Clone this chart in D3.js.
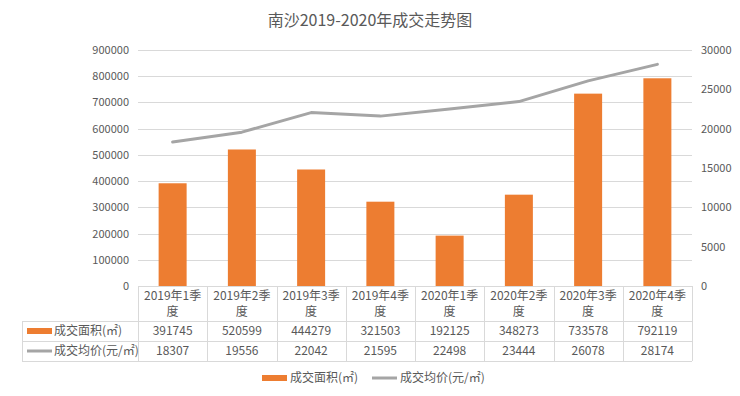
<!DOCTYPE html>
<html>
<head>
<meta charset="utf-8">
<script src="https://cdn.jsdelivr.net/npm/d3@7"></script>
<style>
  body { margin: 0; background: #fff; }
  text { font-family: "Noto Sans CJK SC", "Noto Sans", sans-serif; fill: #595959; }
</style>
</head>
<body>
<svg id="chart" width="740" height="396"></svg>
<script>
// 数据
const categories = ['2019年1季度', '2019年2季度', '2019年3季度', '2019年4季度',
    '2020年1季度', '2020年2季度', '2020年3季度', '2020年4季度'];
const areaValues = [391745, 520599, 444279, 321503, 192125, 348273, 733578, 792119];
const priceValues = [18307, 19556, 22042, 21595, 22498, 23444, 26078, 28174];
const leftTicks = [0, 100000, 200000, 300000, 400000, 500000, 600000, 700000, 800000, 900000];
const rightTicks = [0, 5000, 10000, 15000, 20000, 25000, 30000];
const seriesNames = ['成交面积(㎡)', '成交均价(元/㎡)'];
const title = '南沙2019-2020年成交走势图';

const orange = '#ED7D31';
const grey = '#A5A5A5';
const gridColor = '#D9D9D9';

const svg = d3.select('#chart');
const plot = { left: 138, right: 692, top: 50, bottom: 286 };

const x = d3.scaleBand().domain(categories).range([plot.left, plot.right]);
const yL = d3.scaleLinear().domain([0, 900000]).range([plot.bottom, plot.top]);
const yR = d3.scaleLinear().domain([0, 30000]).range([plot.bottom, plot.top]);

// 标题
svg.append('text')
    .attr('x', 370).attr('y', 26)
    .attr('text-anchor', 'middle')
    .style('font-size', '16px')
    .text(title);

// 网格线
svg.append('g').selectAll('line')
    .data(leftTicks)
    .enter().append('line')
    .attr('x1', plot.left).attr('x2', plot.right)
    .attr('y1', d => Math.round(yL(d)) + 0.5).attr('y2', d => Math.round(yL(d)) + 0.5)
    .attr('stroke', gridColor);

// 左轴
const leftAxis = svg.append('g')
    .attr('transform', `translate(${plot.left - 9},0)`)
    .call(d3.axisLeft(yL).tickValues(leftTicks).tickFormat(d3.format('d')).tickSize(0).tickPadding(0));
leftAxis.select('.domain').remove();
leftAxis.selectAll('text').style('font-size', '11px').attr('fill', '#595959');

// 右轴
const rightAxis = svg.append('g')
    .attr('transform', `translate(${plot.right + 9},0)`)
    .call(d3.axisRight(yR).tickValues(rightTicks).tickFormat(d3.format('d')).tickSize(0).tickPadding(0));
rightAxis.select('.domain').remove();
rightAxis.selectAll('text').style('font-size', '11px').attr('fill', '#595959');

// 柱子
const barW = 28;
svg.append('g').selectAll('rect')
    .data(areaValues)
    .enter().append('rect')
    .attr('x', (d, i) => x(categories[i]) + x.bandwidth() / 2 - barW / 2)
    .attr('width', barW)
    .attr('y', d => yL(d))
    .attr('height', d => yL(0) - yL(d))
    .attr('fill', orange);

// 折线
const line = d3.line()
    .x((d, i) => x(categories[i]) + x.bandwidth() / 2)
    .y(d => yR(d));
svg.append('path')
    .datum(priceValues)
    .attr('d', line)
    .attr('fill', 'none')
    .attr('stroke', grey)
    .attr('stroke-width', 3)
    .attr('stroke-linecap', 'round')
    .attr('stroke-linejoin', 'round');

// 数据表
const tableLeft = 22;
const rowY = [plot.bottom, 321, 341, 361];
const tbl = svg.append('g');
const border = '#D9D9D9';

// 横线
tbl.append('line').attr('x1', plot.left).attr('x2', plot.right)
    .attr('y1', rowY[0] + 0.5).attr('y2', rowY[0] + 0.5).attr('stroke', border);
rowY.slice(1).forEach(y => {
    tbl.append('line').attr('x1', tableLeft).attr('x2', plot.right)
        .attr('y1', y + 0.5).attr('y2', y + 0.5).attr('stroke', border);
});
// 竖线
const vx = categories.map(c => x(c)).concat([plot.right]);
vx.forEach(v => {
    tbl.append('line').attr('x1', Math.round(v) + 0.5).attr('x2', Math.round(v) + 0.5)
        .attr('y1', rowY[0]).attr('y2', rowY[3]).attr('stroke', border);
});
tbl.append('line').attr('x1', tableLeft + 0.5).attr('x2', tableLeft + 0.5)
    .attr('y1', rowY[1]).attr('y2', rowY[3]).attr('stroke', border);

// 类别标签（两行）
categories.forEach(c => {
    const cx = x(c) + x.bandwidth() / 2;
    const t = tbl.append('text')
        .attr('text-anchor', 'middle')
        .style('font-size', '12px');
    t.append('tspan').attr('x', cx).attr('y', 300).text(c.slice(0, c.length - 1));
    t.append('tspan').attr('x', cx).attr('y', 316).text(c.slice(-1));
});

// 数值行
[areaValues, priceValues].forEach((vals, r) => {
    const cy = (rowY[r + 1] + rowY[r + 2]) / 2 + 4;
    vals.forEach((v, i) => {
        tbl.append('text')
            .attr('x', x(categories[i]) + x.bandwidth() / 2)
            .attr('y', cy)
            .attr('text-anchor', 'middle')
            .style('font-size', '12px')
            .text(v);
    });
    // 图例键
    const keyY = (rowY[r + 1] + rowY[r + 2]) / 2;
    if (r === 0) {
        tbl.append('rect').attr('x', 27).attr('y', keyY - 3).attr('width', 25).attr('height', 6).attr('fill', orange);
    } else {
        tbl.append('line').attr('x1', 27).attr('x2', 52).attr('y1', keyY).attr('y2', keyY)
            .attr('stroke', grey).attr('stroke-width', 3);
    }
    tbl.append('text')
        .attr('x', 54).attr('y', cy)
        .style('font-size', '12px')
        .text(seriesNames[r]);
});

// 底部图例
const lg = svg.append('g');
lg.append('rect').attr('x', 262).attr('y', 375).attr('width', 25).attr('height', 6).attr('fill', orange);
lg.append('text').attr('x', 290).attr('y', 382).style('font-size', '12px').text(seriesNames[0]);
lg.append('line').attr('x1', 372).attr('x2', 397).attr('y1', 378).attr('y2', 378)
    .attr('stroke', grey).attr('stroke-width', 3);
lg.append('text').attr('x', 400).attr('y', 382).style('font-size', '12px').text(seriesNames[1]);
</script>
</body>
</html>
